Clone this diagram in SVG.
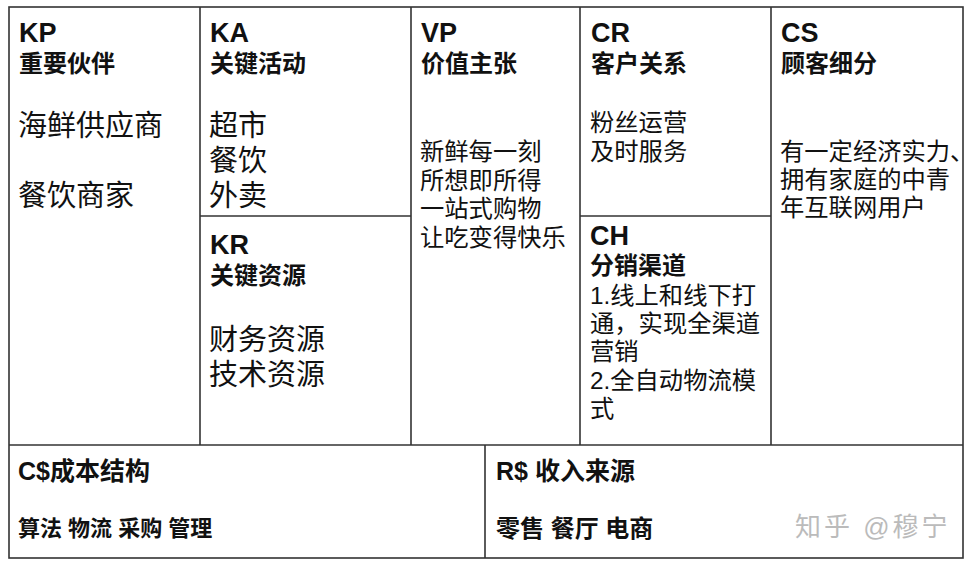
<svg xmlns="http://www.w3.org/2000/svg" width="973" height="569" viewBox="0 0 973 569">
<style>
text{font-family:"Liberation Sans","Noto Sans CJK SC",sans-serif;fill:#111}
.code{font-size:27px;font-weight:bold}
.head{font-size:24px;font-weight:bold}
.head2{font-size:25px;font-weight:bold}
.big{font-size:29px}
.body{font-size:24.3px}
.bot{font-size:22px;font-weight:bold}
.wm{font-size:26px;fill:#bbb}
.ln{stroke:#333;stroke-width:1.6;fill:none}
</style>
<rect width="973" height="569" fill="#fff"/>
<g id="connectors">
<rect class="ln" x="9" y="7" width="954" height="551" stroke-width="2"/>
<line class="ln" x1="9" y1="445" x2="963" y2="445" stroke-width="2"/>
<line class="ln" x1="200" y1="7" x2="200" y2="445"/>
<line class="ln" x1="411" y1="7" x2="411" y2="445"/>
<line class="ln" x1="580" y1="7" x2="580" y2="445"/>
<line class="ln" x1="771" y1="7" x2="771" y2="445"/>
<line class="ln" x1="200" y1="216" x2="411" y2="216"/>
<line class="ln" x1="580" y1="216" x2="771" y2="216"/>
<line class="ln" x1="485" y1="445" x2="485" y2="558"/>
</g>
<g id="KP">
<text class="code" x="19" y="42">KP</text>
<text class="head" x="19" y="72">重要伙伴</text>
<text class="big" x="18" y="136">海鲜供应商</text>
<text class="big" x="18" y="206">餐饮商家</text>
</g>
<g id="KA">
<text class="code" x="210" y="42">KA</text>
<text class="head" x="210" y="72">关键活动</text>
<text class="big" x="209" y="136">超市</text>
<text class="big" x="209" y="171">餐饮</text>
<text class="big" x="209" y="206">外卖</text>
</g>
<g id="KR">
<text class="code" x="210" y="254">KR</text>
<text class="head" x="210" y="284">关键资源</text>
<text class="big" x="209" y="350">财务资源</text>
<text class="big" x="209" y="385">技术资源</text>
</g>
<g id="VP">
<text class="code" x="421" y="42">VP</text>
<text class="head" x="421" y="72">价值主张</text>
<text class="body" x="420" y="160">新鲜每一刻</text>
<text class="body" x="420" y="189">所想即所得</text>
<text class="body" x="420" y="217">一站式购物</text>
<text class="body" x="420" y="246">让吃变得快乐</text>
</g>
<g id="CR">
<text class="code" x="591" y="42">CR</text>
<text class="head" x="591" y="72">客户关系</text>
<text class="body" x="590" y="131">粉丝运营</text>
<text class="body" x="590" y="160">及时服务</text>
</g>
<g id="CH">
<text class="code" x="590" y="245">CH</text>
<text class="head" x="590" y="274">分销渠道</text>
<text class="body" x="590" y="304">1.线上和线下打</text>
<text class="body" x="590" y="332">通，实现全渠道</text>
<text class="body" x="590" y="360">营销</text>
<text class="body" x="590" y="389">2.全自动物流模</text>
<text class="body" x="590" y="417">式</text>
</g>
<g id="CS">
<text class="code" x="781" y="42">CS</text>
<text class="head" x="781" y="72">顾客细分</text>
<text class="body" x="780" y="160">有一定经济实力、</text>
<text class="body" x="780" y="188">拥有家庭的中青</text>
<text class="body" x="780" y="216">年互联网用户</text>
</g>
<g id="Cost">
<text class="head2" x="18" y="480">C$成本结构</text>
<text class="bot" x="18" y="536">算法 物流 采购 管理</text>
</g>
<g id="Revenue">
<text class="head2" x="496" y="480">R$ 收入来源</text>
<text class="bot" x="496" y="537" style="font-size:24px">零售 餐厅 电商</text>
<text class="wm" x="795" y="536" letter-spacing="3">知乎 @穆宁</text>
</g>
</svg>
